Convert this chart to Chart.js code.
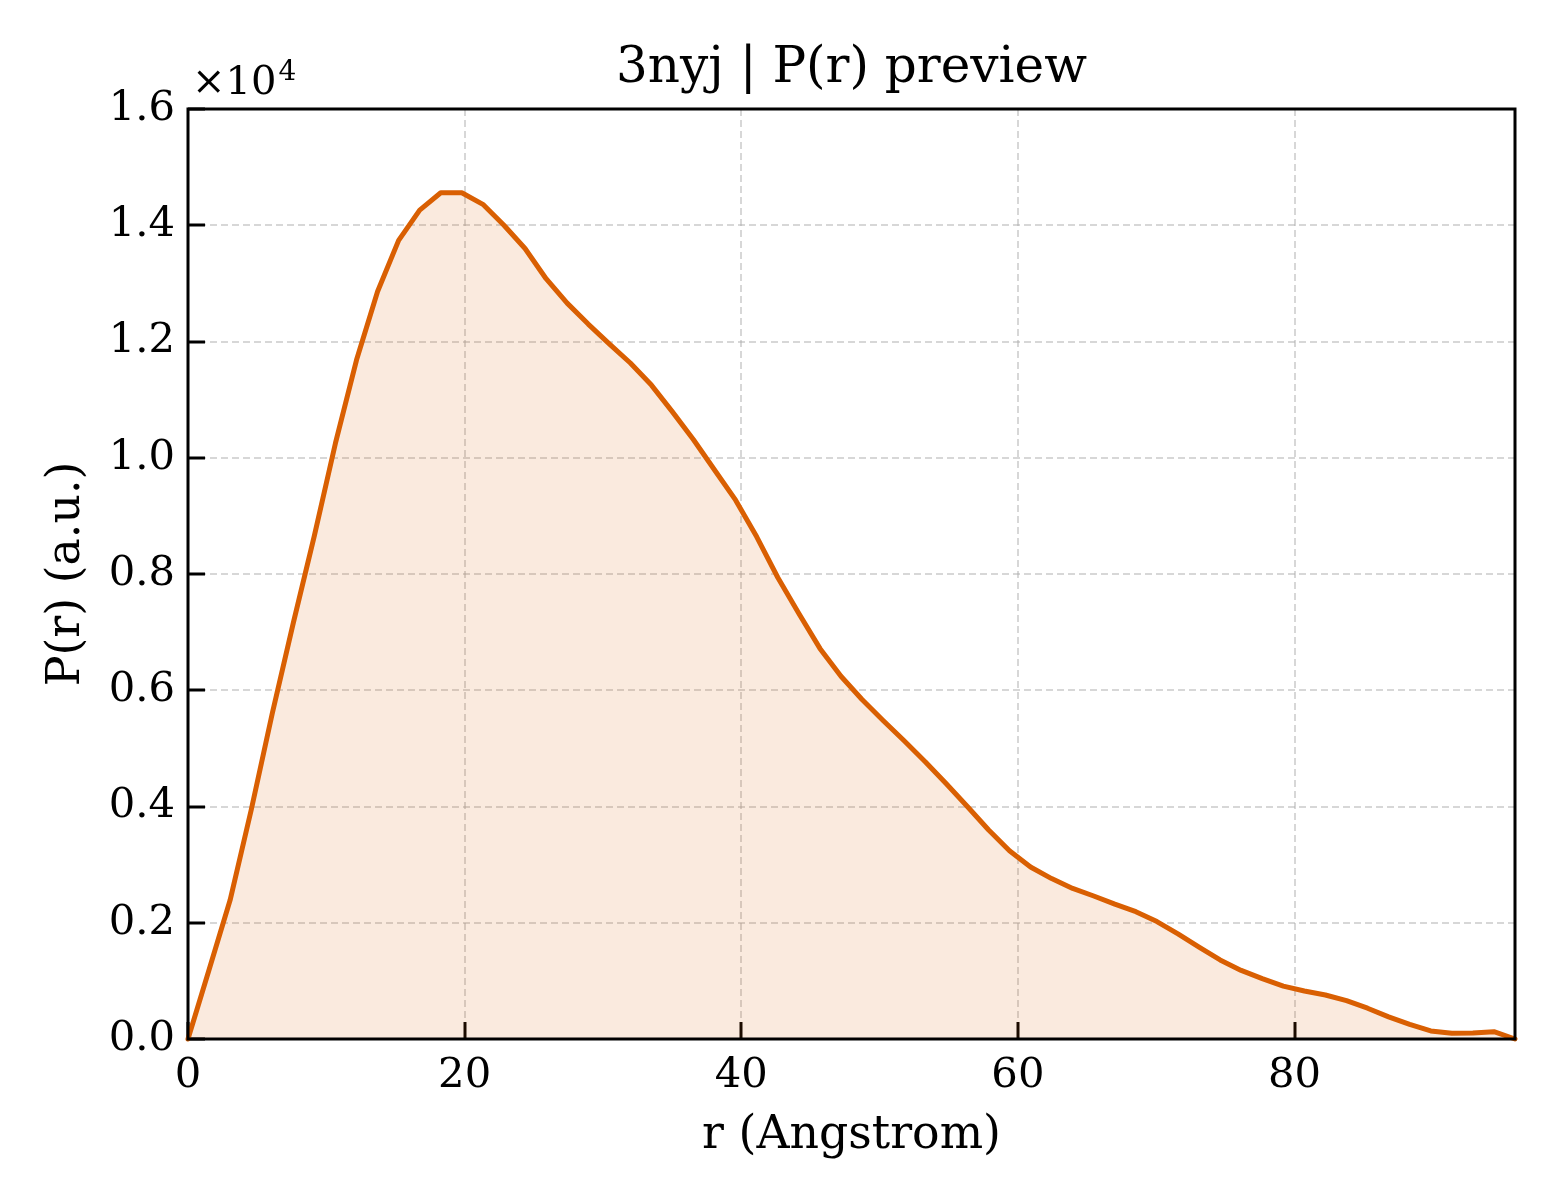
<!DOCTYPE html>
<html>
<head>
<meta charset="utf-8">
<script src="https://cdn.jsdelivr.net/npm/chart.js@4.4.1/dist/chart.umd.min.js"></script>
<style>
  html, body { margin: 0; padding: 0; background: #ffffff; }
  #wrap { width: 1560px; height: 1200px; }
</style>
</head>
<body>
<div id="wrap"><canvas id="c" width="1560" height="1200"></canvas></div>
<script>
// ---- data ----
const rValues = [
  0.000, 1.523, 3.046, 4.569, 6.091, 7.614, 9.137, 10.660, 12.183, 13.706,
  15.229, 16.751, 18.274, 19.797, 21.320, 22.843, 24.366, 25.889, 27.411, 28.934,
  30.457, 31.980, 33.503, 35.026, 36.549, 38.071, 39.594, 41.117, 42.640, 44.163,
  45.686, 47.209, 48.731, 50.254, 51.777, 53.300, 54.823, 56.346, 57.869, 59.391,
  60.914, 62.437, 63.960, 65.483, 67.006, 68.529, 70.051, 71.574, 73.097, 74.620,
  76.143, 77.666, 79.189, 80.711, 82.234, 83.757, 85.280, 86.803, 88.326, 89.849,
  91.371, 92.894, 94.417, 95.940
];
const prValues = [
  0, 1190, 2390, 3940, 5600, 7160, 8660, 10250, 11680, 12860,
  13740, 14260, 14560, 14560, 14360, 14000, 13600, 13080, 12660, 12300,
  11960, 11630, 11250, 10790, 10310, 9790, 9270, 8640, 7940, 7320,
  6720, 6240, 5840, 5480, 5130, 4770, 4390, 4000, 3600, 3240,
  2960, 2760, 2590, 2460, 2320, 2190, 2020, 1810, 1580, 1360,
  1180, 1040, 910, 826, 757, 660, 530, 380, 250, 138,
  98, 103, 126, 0
];
const xTicks = [0, 20, 40, 60, 80];
const yTicks = [0, 2000, 4000, 6000, 8000, 10000, 12000, 14000, 16000];
const titleText = '3nyj | P(r) preview';
const xLabel = 'r (Angstrom)';
const yLabel = 'P(r) (a.u.)';
const offsetBase = '\u00d710';
const offsetExp = '4';

const SERIF = "'DejaVu Serif', 'Liberation Serif', serif";
const LINE = '#d95f02';
const FILL = 'rgba(217,95,2,0.13)';

const points = rValues.map((r, i) => ({ x: r, y: prValues[i] }));

const decor = {
  id: 'decor',
  afterDraw(chart) {
    const ctx = chart.ctx;
    const a = chart.chartArea;
    ctx.save();
    ctx.setLineDash([]);
    ctx.strokeStyle = '#000000';
    ctx.lineWidth = 3;
    ctx.beginPath();
    ctx.rect(a.left, a.top, a.right - a.left, a.bottom - a.top);
    ctx.stroke();
    // offset text x10^4
    ctx.fillStyle = '#000';
    ctx.textBaseline = 'alphabetic';
    ctx.textAlign = 'left';
    ctx.font = '40px ' + SERIF;
    ctx.fillText(offsetBase, a.left + 4, 94);
    const w = ctx.measureText(offsetBase).width;
    ctx.font = '28px ' + SERIF;
    ctx.fillText(offsetExp, a.left + 4 + w + 2, 80);
    ctx.restore();
  }
};

const gridOpts = {
  color: 'rgba(176,176,176,0.5)',
  lineWidth: 2,
  drawTicks: true,
  tickLength: -17,
  tickWidth: 3,
  tickColor: '#000000',
  tickBorderDash: []
};

new Chart(document.getElementById('c'), {
  type: 'line',
  data: {
    datasets: [{
      data: points,
      borderColor: LINE,
      backgroundColor: FILL,
      borderWidth: 5,
      fill: 'origin',
      tension: 0,
      pointRadius: 0,
      pointHoverRadius: 0,
      borderJoinStyle: 'round',
      borderCapStyle: 'round',
      clip: false
    }]
  },
  options: {
    responsive: false,
    devicePixelRatio: 1,
    animation: false,
    events: [],
    layout: { padding: { left: 0, right: 45, top: 0, bottom: 0 } },
    plugins: {
      legend: { display: false },
      tooltip: { enabled: false },
      title: {
        display: true,
        text: titleText,
        fullSize: false,
        color: '#000',
        font: { family: SERIF, size: 50, weight: 'normal', lineHeight: 1.2 },
        padding: { top: 39, bottom: 10 }
      }
    },
    scales: {
      x: {
        type: 'linear',
        min: 0,
        max: 95.94,
        afterFit(s) { s.height = 161; },
        afterBuildTicks(s) { s.ticks = xTicks.map(v => ({ value: v })); },
        ticks: {
          includeBounds: false,
          color: '#000',
          font: { family: SERIF, size: 41.7 },
          padding: 29,
          maxRotation: 0,
          autoSkip: false,
          callback: v => String(v)
        },
        grid: gridOpts,
        border: { display: false, dash: [7, 4] },
        title: {
          display: true,
          text: xLabel,
          color: '#000',
          font: { family: SERIF, size: 45.8, lineHeight: 1.2 },
          padding: { top: 0, bottom: 36 }
        }
      },
      y: {
        type: 'linear',
        min: 0,
        max: 16000,
        afterFit(s) { s.width = 188; },
        afterBuildTicks(s) { s.ticks = yTicks.map(v => ({ value: v })); },
        ticks: {
          includeBounds: false,
          color: '#000',
          font: { family: SERIF, size: 41.7 },
          padding: 30,
          autoSkip: false,
          callback: v => (v / 10000).toFixed(1)
        },
        grid: gridOpts,
        border: { display: false, dash: [7, 4] },
        title: {
          display: true,
          text: yLabel,
          color: '#000',
          font: { family: SERIF, size: 45.8, lineHeight: 1.2 },
          padding: { top: 40, bottom: 0 }
        }
      }
    }
  },
  plugins: [decor]
});
</script>
</body>
</html>
